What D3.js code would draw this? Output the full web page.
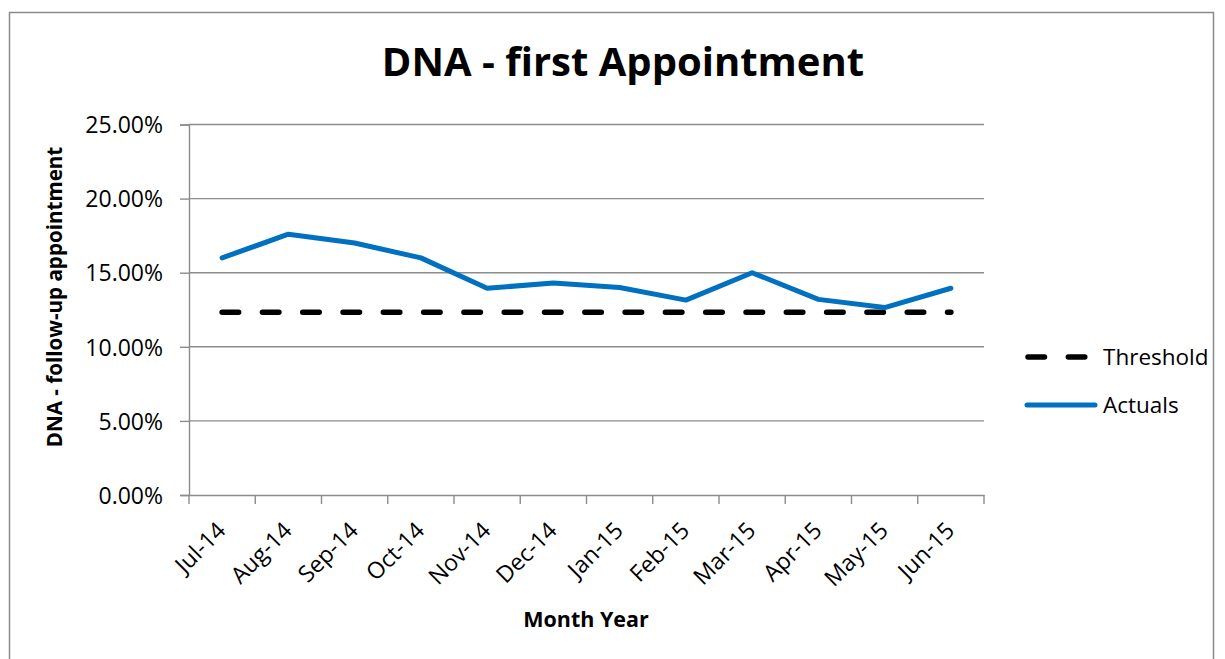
<!DOCTYPE html>
<html>
<head>
<meta charset="utf-8">
<script src="https://cdn.jsdelivr.net/npm/d3@7"></script>
<style>
  html, body { margin: 0; padding: 0; background: #fff; }
  svg { display: block; }
  text { font-family: "Open Sans", "DejaVu Sans", sans-serif; fill: #000; }
</style>
</head>
<body>
<svg id="chart" width="1225" height="659"></svg>
<script>
const months = ["Jul-14","Aug-14","Sep-14","Oct-14","Nov-14","Dec-14","Jan-15","Feb-15","Mar-15","Apr-15","May-15","Jun-15"];
const actuals = [16.0, 17.6, 17.0, 16.0, 13.95, 14.3, 14.0, 13.15, 15.0, 13.2, 12.65, 13.95];
const threshold = [12.33, 12.33, 12.33, 12.33, 12.33, 12.33, 12.33, 12.33, 12.33, 12.33, 12.33, 12.33];
const yTicks = [0, 5, 10, 15, 20, 25];
const titleText = "DNA - first Appointment";
const yTitle = "DNA - follow-up appointment";
const xTitle = "Month Year";
const seriesNames = ["Threshold", "Actuals"];

(function () {
const svg = d3.select("#chart");
const pLeft = 189, pRight = 984, pTop = 124.5, pBottom = 495;

// outer frame
svg.append("rect").attr("x", 9.5).attr("y", 12.5).attr("width", 1204).attr("height", 670)
  .attr("fill", "none").attr("stroke", "#8a8a8a").attr("stroke-width", 1.5);

const x = d3.scaleBand().domain(months).range([pLeft, pRight]).padding(0);
const y = d3.scaleLinear().domain([0, 25]).range([pBottom, pTop]);
const cx = d => x(d) + x.bandwidth() / 2;

const gridColor = "#8c8c8c";

// gridlines
svg.append("g").selectAll("line").data(yTicks.filter(t => t > 0)).join("line")
  .attr("x1", pLeft).attr("x2", pRight)
  .attr("y1", d => y(d)).attr("y2", d => y(d))
  .attr("stroke", gridColor).attr("stroke-width", 1.4);

// y axis
const yAxis = d3.axisLeft(y).tickValues(yTicks).tickSize(9).tickPadding(17)
  .tickFormat(d => d3.format(".2f")(d) + "%");
const gy = svg.append("g").attr("transform", `translate(${pLeft},0)`).call(yAxis);
gy.select(".domain").attr("stroke", gridColor).attr("stroke-width", 1.4);
gy.selectAll(".tick line").attr("stroke", gridColor).attr("stroke-width", 1.4);
gy.selectAll(".tick text").attr("font-size", 23).attr("font-family", "Open Sans").attr("dy", "0.36em");

// x axis
const xAxis = d3.axisBottom(x).tickSize(0).tickFormat("");
const gx = svg.append("g").attr("transform", `translate(0,${pBottom})`).call(xAxis);
gx.select(".domain").attr("stroke", gridColor).attr("stroke-width", 1.4);
gx.selectAll(".tick").remove();
const boundaries = months.map(m => x(m)).concat([pRight]);
svg.append("g").selectAll("line").data(boundaries).join("line")
  .attr("x1", d => d).attr("x2", d => d).attr("y1", pBottom).attr("y2", pBottom + 9)
  .attr("stroke", gridColor).attr("stroke-width", 1.4);

// x labels rotated
svg.append("g").selectAll("text").data(months).join("text")
  .attr("transform", d => `translate(${cx(d) + 5},${pBottom + 37}) rotate(-45)`)
  .attr("text-anchor", "end")
  .attr("font-size", 23)
  .text(d => d);

// lines
const line = d3.line().x((d, i) => cx(months[i])).y(d => y(d));
svg.append("path").datum(threshold).attr("d", line)
  .attr("fill", "none").attr("stroke", "#000").attr("stroke-width", 5.5)
  .attr("stroke-linecap", "round").attr("stroke-dasharray", "16.5,23.8");
svg.append("path").datum(actuals).attr("d", line)
  .attr("fill", "none").attr("stroke", "#0070C0").attr("stroke-width", 5)
  .attr("stroke-linecap", "round").attr("stroke-linejoin", "round");

// title
svg.append("text").attr("x", 623).attr("y", 76).attr("text-anchor", "middle")
  .attr("font-size", 40).attr("font-weight", "bold").text(titleText);

// axis titles
svg.append("text").attr("transform", "translate(62,297) rotate(-90)").attr("text-anchor", "middle")
  .attr("font-size", 20.6).attr("font-weight", "bold").text(yTitle);
svg.append("text").attr("x", 586).attr("y", 627).attr("text-anchor", "middle")
  .attr("font-size", 21.5).attr("font-weight", "bold").text(xTitle);

// legend
const lg = svg.append("g");
lg.append("line").attr("x1", 1028).attr("x2", 1087).attr("y1", 357).attr("y2", 357)
  .attr("stroke", "#000").attr("stroke-width", 5.5).attr("stroke-linecap", "round")
  .attr("stroke-dasharray", "16.5,23.8");
lg.append("text").attr("x", 1103).attr("y", 365).attr("font-size", 22.5).text(seriesNames[0]);
lg.append("line").attr("x1", 1027).attr("x2", 1095).attr("y1", 405).attr("y2", 405)
  .attr("stroke", "#0070C0").attr("stroke-width", 5).attr("stroke-linecap", "round");
lg.append("text").attr("x", 1103).attr("y", 413).attr("font-size", 22.5).text(seriesNames[1]);
})();
</script>
</body>
</html>
